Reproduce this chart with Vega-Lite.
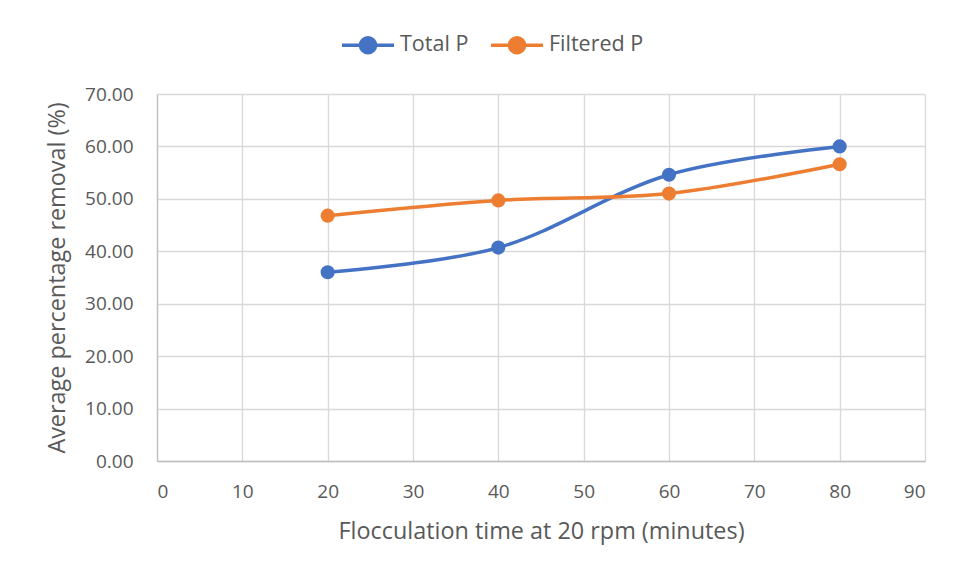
{
  "$schema": "https://vega.github.io/schema/vega-lite/v6.json",
  "width": 768,
  "height": 367,
  "autosize": {"type": "none"},
  "padding": {"left": 157, "top": 94, "right": 33, "bottom": 117},
  "background": "white",
  "config": {
    "font": "Open Sans",
    "view": {"stroke": null},
    "axis": {
      "labelColor": "#595959",
      "titleColor": "#595959",
      "labelFontSize": 19,
      "titleFontSize": 23.4,
      "titleFontWeight": "normal",
      "gridColor": "#D9D9D9",
      "gridWidth": 1.3,
      "domainColor": "#BFBFBF",
      "domainWidth": 1.3,
      "ticks": false
    },
    "legend": {
      "labelColor": "#595959",
      "labelFontSize": 21.5
    }
  },
  "data": {
    "values": [
      {"time": 20, "removal": 36.0, "series": "Total P"},
      {"time": 40, "removal": 40.7, "series": "Total P"},
      {"time": 60, "removal": 54.6, "series": "Total P"},
      {"time": 80, "removal": 60.0, "series": "Total P"},
      {"time": 20, "removal": 46.8, "series": "Filtered P"},
      {"time": 40, "removal": 49.7, "series": "Filtered P"},
      {"time": 60, "removal": 51.0, "series": "Filtered P"},
      {"time": 80, "removal": 56.6, "series": "Filtered P"}
    ]
  },
  "mark": {
    "type": "line",
    "interpolate": "catmull-rom",
    "strokeWidth": 3.5,
    "point": {"size": 200, "filled": true, "opacity": 1}
  },
  "encoding": {
    "x": {
      "field": "time",
      "type": "quantitative",
      "scale": {"domain": [0, 90], "nice": false},
      "axis": {
        "values": [0, 10, 20, 30, 40, 50, 60, 70, 80, 90],
        "labelPadding": 21,
        "title": "Flocculation time at 20 rpm (minutes)",
        "titlePadding": 19
      }
    },
    "y": {
      "field": "removal",
      "type": "quantitative",
      "scale": {"domain": [0, 70], "nice": false},
      "axis": {
        "values": [0, 10, 20, 30, 40, 50, 60, 70],
        "format": ".2f",
        "labelPadding": 24,
        "title": "Average percentage removal (%)",
        "titlePadding": 15
      }
    },
    "color": {
      "field": "series",
      "type": "nominal",
      "scale": {"domain": ["Total P", "Filtered P"], "range": ["#4472C4", "#ED7D31"]},
      "legend": {
        "title": null,
        "orient": "none",
        "direction": "horizontal",
        "legendX": 183,
        "legendY": -77,
        "symbolType": "M-1,0H1M0.29,0A0.29,0.29,0,1,1,-0.29,0A0.29,0.29,0,1,1,0.29,0Z",
        "symbolSize": 2704,
        "symbolStrokeWidth": 3.5,
        "labelOffset": 4,
        "columnPadding": 15
      }
    }
  }
}
